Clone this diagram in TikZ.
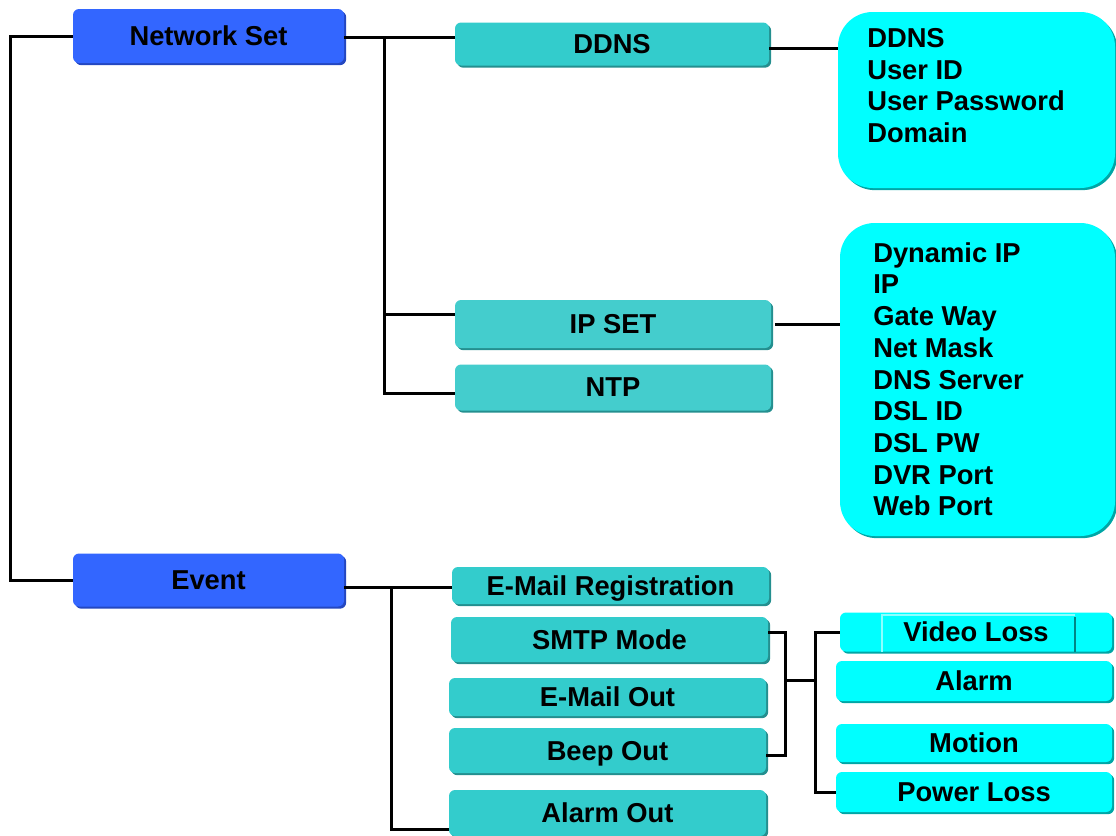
\documentclass[tikz,border=0pt]{standalone}
\usepackage{fontspec}
\setmainfont{Liberation Sans}
\usepackage{tikz}
\usepackage{xcolor}
\usetikzlibrary{positioning,shadows}
\definecolor{menublue}{HTML}{3366FF}
\definecolor{menubluedark}{HTML}{2447C0}
\definecolor{subteal}{HTML}{33CCCC}
\definecolor{subteallight}{HTML}{44CDCD}
\definecolor{subtealdark}{HTML}{248F8F}
\definecolor{itemcyan}{HTML}{00FFFF}
\definecolor{itemcyandark}{HTML}{00A6A6}
\newcommand{\menufont}{\fontsize{20.5}{23.8}\selectfont\bfseries}

\begin{document}
\begin{tikzpicture}[x=0.75pt, y=-0.75pt,
    box/.style={rounded corners=4.5pt, inner sep=0pt, align=center, font=\menufont, text depth=0pt},
    mainbox/.style={box, fill=menublue, minimum width=203.25pt,
        general shadow={fill=menubluedark, shadow xshift=1.6pt, shadow yshift=-1.6pt}},
    subbox/.style={box, fill=subteal, minimum width=237.75pt,
        general shadow={fill=subtealdark, shadow xshift=1.6pt, shadow yshift=-1.6pt}},
    itembox/.style={box, fill=itemcyan, minimum width=207pt,
        general shadow={fill=itemcyandark, shadow xshift=1.6pt, shadow yshift=-1.6pt}},
    listbox/.style={fill=itemcyan, rounded corners=26pt, inner sep=0pt,
        general shadow={fill=itemcyandark, shadow xshift=1.6pt, shadow yshift=-1.6pt}},
    listtext/.style={anchor=north west, align=left, inner sep=0pt, font=\menufont},
    link/.style={line width=2.25pt, black}]
        \useasboundingbox (0,0) rectangle (1116,835);

        % Main menus
        \node[mainbox, minimum height=40.5pt] (netset) at (208.5, 36) {Network Set};
        \node[mainbox, minimum height=39.75pt] (event) at (208.5, 580) {Event};

        % Network Set items
        \node[subbox, minimum width=235.5pt, minimum height=32.25pt] (ddns) at (612, 44) {DDNS};
        \node[subbox, fill=subteallight, minimum width=237pt, minimum height=36pt] (ipset) at (613, 324) {IP SET};
        \node[subbox, fill=subteallight, minimum width=237pt, minimum height=34.5pt] (ntp) at (613, 387.5) {NTP};

        \node[listbox, minimum width=207.75pt, minimum height=132pt] (ddnslist) at (976.5, 100) {};
        \node[listtext] (ddnsitems) at (867, 28) {DDNS\\User ID\\User Password\\Domain};
        \node[listbox, minimum width=206.25pt, minimum height=234.75pt] (iplist) at (977.5, 379.5) {};
        \node[listtext] (ipitems) at (873, 242) {Dynamic IP\\IP\\Gate Way\\Net Mask\\DNS Server\\DSL ID\\DSL PW\\DVR Port\\Web Port};

        % Event items
        \node[subbox, minimum height=27.75pt] (emailreg) at (610.5, 585.5) {E-Mail Registration};
        \node[subbox, minimum height=33.75pt] (smtp) at (609.5, 639.5) {SMTP Mode};
        \node[subbox, minimum height=28.5pt] (emailout) at (607.5, 697) {E-Mail Out};
        \node[subbox, minimum height=33.75pt] (beep) at (607.5, 750.5) {Beep Out};
        \node[subbox, minimum height=34.5pt] (alarmout) at (607.5, 813) {Alarm Out};

        \node[itembox, minimum width=204pt, minimum height=29.25pt] (videoloss) at (976, 632) {Video Loss};
        \node[itembox, minimum height=30pt] (alarm) at (974, 681) {Alarm};
        \node[itembox, minimum height=28.5pt] (motion) at (974, 743) {Motion};
        \node[itembox, minimum height=30pt] (powerloss) at (974, 792) {Power Loss};
        \draw[itemcyan!45!white, line width=0.9pt] (882, 652) |- (1075, 615);
        \draw[itemcyandark!80!black, line width=0.9pt] (1075, 617) -- (1075, 652);

        % Connectors
        \coordinate (nsjoin) at (384, 37);
        \coordinate (evjoin) at (391, 587);
        \coordinate (outjoin) at (785, 680);
        \coordinate (trigjoin) at (815, 680);

        \draw[link] (netset.west) -- ++(-62, 0) |- (event.west);
        \draw[link] (netset.east |- nsjoin) -- (nsjoin -| ddns.west);
        \draw[link] (nsjoin) |- ([yshift=-4.5pt]ntp.west);
        \draw[link] (nsjoin |- ipset.west) ++(0, -10) -- ([yshift=7.5pt]ipset.west);
        \draw[link] ([yshift=-3pt]ddns.east) -- ([yshift=-3pt]ddns.east -| ddnslist.west);
        \draw[link] ([xshift=3pt]ipset.east) -- (ipset.east -| iplist.west);

        \draw[link] (event.east |- evjoin) -- (evjoin -| emailreg.west);
        \draw[link] (evjoin) |- ([yshift=-12pt]alarmout.west);
        \draw[link] ([yshift=5pt]smtp.east) -| (outjoin) |- ([yshift=-3.5pt]beep.east);
        \draw[link] (outjoin) -- (trigjoin);
        \draw[link] (videoloss.west) -| (trigjoin) |- (powerloss.west);
    \end{tikzpicture}
\end{document}
